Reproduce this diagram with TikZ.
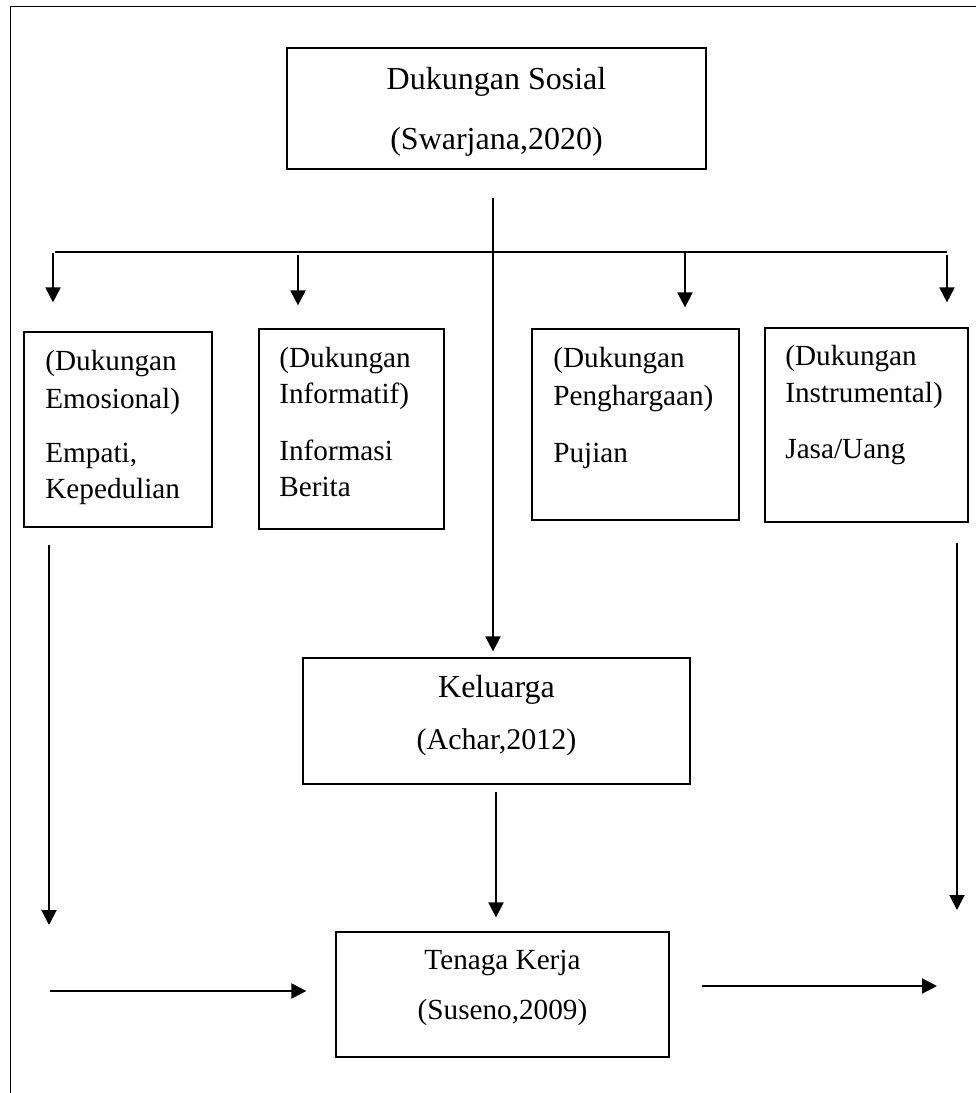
\documentclass[tikz,border=0pt]{standalone}
\usepackage{fontspec}
\setmainfont{Liberation Serif}
\usetikzlibrary{arrows.meta,fit}
\begin{document}
\begin{tikzpicture}[x=0.5pt,y=-0.5pt,
  box/.style={draw, line width=0.6pt, inner sep=0pt},
  lbl/.style={font=\fontsize{14.6}{17}\selectfont, inner sep=0pt, anchor=base west},
  ctr/.style={font=\fontsize{16}{18.5}\selectfont, inner sep=0pt, anchor=base},
  ctrs/.style={font=\fontsize{14.6}{17}\selectfont, inner sep=0pt, anchor=base},
  arr/.style={line width=1pt, -{Triangle[length=7.5pt,width=7.5pt]}},
  ln/.style={line width=0.6pt}]
\useasboundingbox (0,0) rectangle (976,1093);
% frame
\coordinate (fbl) at (10.5,1093);
\coordinate (ftl) at (10.5,6.5);
\coordinate (ftr) at (976,6.5);
\draw[line width=0.7pt] (fbl) -- (ftl) -- (ftr);

% top box
\node[box, fit={(287,48) (706,169)}] (top) {};
\node[ctr] (topa) at (496.5,89) {Dukungan Sosial};
\node[ctr] (topb) at (496.5,149) {(Swarjana,2020)};

% four boxes
\node[box, fit={(24,332) (212,527)}] (b1) {};
\node[lbl] (b1a) at (45,370) {(Dukungan};
\node[lbl] (b1b) at (45,408) {Emosional)};
\node[lbl] (b1c) at (45,462) {Empati,};
\node[lbl] (b1d) at (45,498) {Kepedulian};

\node[box, fit={(259,329) (444,529)}] (b2) {};
\node[lbl] (b2a) at (279,367) {(Dukungan};
\node[lbl] (b2b) at (279,403) {Informatif)};
\node[lbl] (b2c) at (279,460) {Informasi};
\node[lbl] (b2d) at (279,496) {Berita};

\node[box, fit={(532,329) (739,520)}] (b3) {};
\node[lbl] (b3a) at (553,367) {(Dukungan};
\node[lbl] (b3b) at (553,405) {Penghargaan)};
\node[lbl] (b3c) at (553,462) {Pujian};

\node[box, fit={(765,328) (968,522)}] (b4) {};
\node[lbl] (b4a) at (785,365) {(Dukungan};
\node[lbl] (b4b) at (785,402) {Instrumental)};
\node[lbl] (b4c) at (785,458) {Jasa/Uang};

% Keluarga
\node[box, fit={(303,658) (690,784)}] (kel) {};
\node[ctr] (kela) at (496.5,697) {Keluarga};
\node[ctr, font=\fontsize{15}{17}\selectfont] (kelb) at (496.5,749) {(Achar,2012)};

% Tenaga Kerja
\node[box, fit={(336,932) (669,1057)}] (ten) {};
\node[ctrs] (tena) at (502.5,969) {Tenaga Kerja};
\node[ctrs] (tenb) at (502.5,1019) {(Suseno,2009)};

% central line
\coordinate (c0) at (493,198);
\draw[arr, shorten >=3pt] (c0) -- (c0 |- kel.north);

% branch line
\coordinate (brL) at (55,252);
\coordinate (brR) at (947,252);
\draw[ln] (brL) -- (brR);

% branch arrows
\coordinate (a1) at (53,253);
\coordinate (a2) at (298,255);
\coordinate (a3) at (685,252);
\coordinate (a4) at (947,255);
\draw[arr, shorten >=14.5pt] (a1) -- (a1 |- b1.north);
\draw[arr, shorten >=11.5pt] (a2) -- (a2 |- b2.north);
\draw[arr, shorten >=10.5pt] (a3) -- (a3 |- b3.north);
\draw[arr, shorten >=12.5pt] (a4) -- (a4 |- b4.north);

% Keluarga -> Tenaga
\coordinate (k0) at (496,792);
\draw[arr, shorten >=7pt] (k0) -- (k0 |- ten.north);

% long side arrows
\coordinate (l0) at (49,545);
\coordinate (l1) at (49,925);
\draw[arr] (l0) -- (l1);
\coordinate (r0) at (957,543);
\coordinate (r1) at (957,910);
\draw[arr] (r0) -- (r1);

% bottom horizontal arrows
\coordinate (h0) at (50,991);
\draw[arr, shorten >=14.5pt] (h0) -- (h0 -| ten.west);
\coordinate (h1) at (702,986);
\coordinate (h2) at (937,986);
\draw[arr] (h1) -- (h2);
\end{tikzpicture}
\end{document}
